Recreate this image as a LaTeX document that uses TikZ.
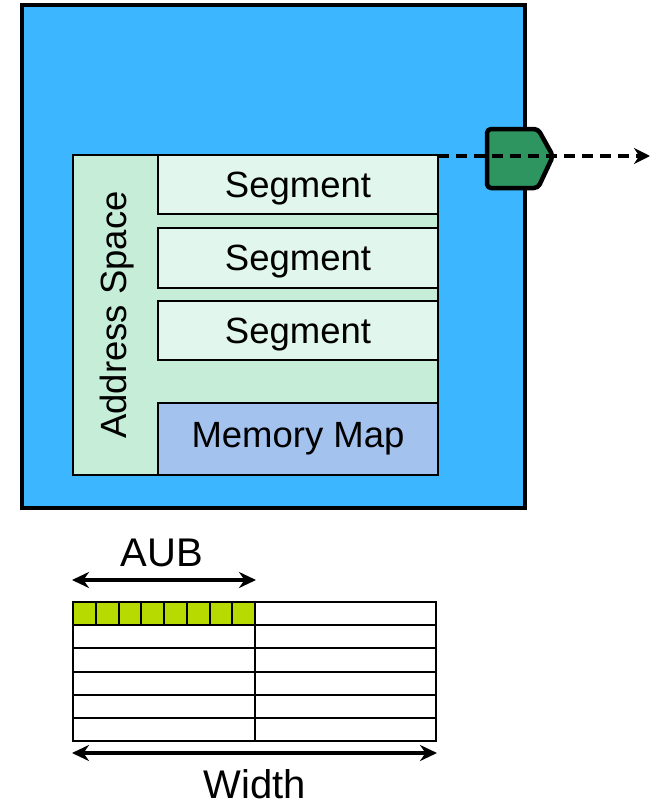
\documentclass[tikz,border=0pt]{standalone}
\usepackage{fontspec}
\setmainfont{Liberation Sans}
\usetikzlibrary{arrows.meta}
\definecolor{outerblue}{RGB}{59,182,255}
\definecolor{asgreen}{RGB}{198,237,216}
\definecolor{seggreen}{RGB}{225,246,236}
\definecolor{mmblue}{RGB}{164,194,238}
\definecolor{portgreen}{RGB}{46,148,96}
\definecolor{lime}{RGB}{183,219,0}
\begin{document}
\begin{tikzpicture}[x=1pt,y=-1pt,
  box/.style={draw, line width=2pt, inner sep=0pt, outer sep=0pt, anchor=north west},
  bigtext/.style={font=\fontsize{36.5}{44}\selectfont},
  segbox/.style={box, bigtext, fill=seggreen, minimum width=280pt, text depth=0pt},
  dimarrow/.style={line width=4pt, {Stealth[length=17pt,width=16pt]}-{Stealth[length=17pt,width=16pt]}},
  cell/.style={draw, line width=2pt, fill=lime, inner sep=0pt, outer sep=0pt, anchor=north west, minimum width=22.75pt, minimum height=23pt}
]
\useasboundingbox (0,0) rectangle (651,806);
% outer box
\node[box, line width=4.5pt, fill=outerblue, minimum width=503pt, minimum height=503pt] (outer) at (22,5) {};
% address space
\node[box, fill=asgreen, minimum width=365pt, minimum height=320pt] (as) at (73,155) {};
\node[bigtext, rotate=90] (aslabel) at (117,315) {Address Space};
\node[segbox, minimum height=59pt] (seg1) at (158,155) {Segment};
\node[segbox, minimum height=60pt] (seg2) at (158,228) {Segment};
\node[segbox, minimum height=59pt] (seg3) at (158,301) {Segment};
\node[box, bigtext, fill=mmblue, minimum width=280pt, minimum height=72pt] (mm) at (158,403) {Memory Map};
% port
\draw[line width=4.5pt, fill=portgreen, rounded corners=4pt, line join=round]
  (487,129) -- (538,129) -- (553,156) -- (538,188) -- (487,188) -- cycle;
% dashed connector
\coordinate (tipend) at (650,156);
\draw[line width=4pt, dash pattern=on 11pt off 7pt, -{Stealth[length=16pt,width=16pt]}] (as.north east |- 0,156) -- (tipend);
% table
\node[box, line width=2pt, minimum width=363pt, minimum height=139pt] (tbl) at (73,602) {};
\foreach \i in {1,...,5} {
  \draw[line width=2pt] (73,{602+23.17*\i}) -- (436,{602+23.17*\i});
}
\draw[line width=2pt] (255,602) -- (255,741);
\foreach \i in {0,...,7} {
  \node[cell] (c\i) at ({73+22.75*\i},602) {};
}
% dimension arrows
\coordinate (aubL) at (72,580);
\coordinate (aubR) at (256,580);
\draw[dimarrow] (aubL) -- (aubR);
\node[font=\fontsize{40}{48}\selectfont] (aub) at (162,553) {AUB};
\coordinate (wL) at (72,753);
\coordinate (wR) at (437,753);
\draw[dimarrow] (wL) -- (wR);
\node[font=\fontsize{40}{48}\selectfont, inner sep=0pt] (width) at (255,784) {Width};
\end{tikzpicture}
\end{document}
